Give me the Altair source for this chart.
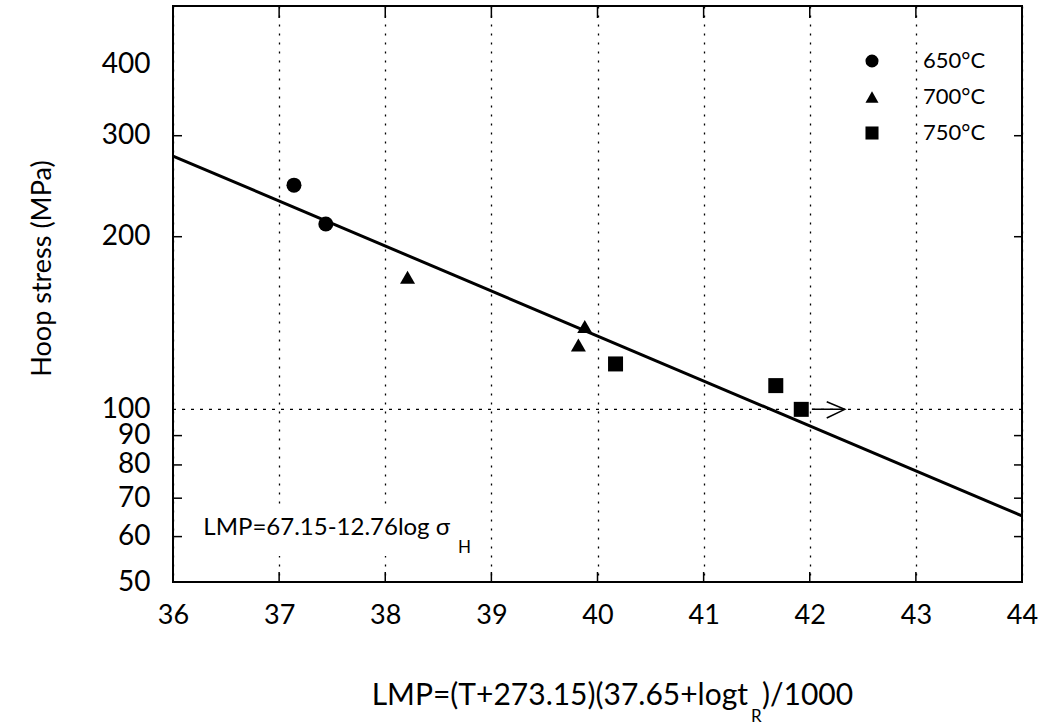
import altair as alt
import pandas as pd

FONT = "Lato"

# ---- data ----
x_ticks = [36, 37, 38, 39, 40, 41, 42, 43, 44]
y_ticks = [50, 60, 70, 80, 90, 100, 200, 300, 400]
y_inner_ticks = [60, 70, 80, 90, 200, 300]
x_inner_ticks = [37, 38, 39, 40, 41, 42, 43]
grid_y = [100]

series = ["650°C", "700°C", "750°C"]
t650_x = [37.14, 37.44]
t650_y = [246, 210.5]
t700_x = [38.21, 39.88, 39.82]
t700_y = [170, 139.5, 129.5]
t750_x = [40.17, 41.68, 41.92]
t750_y = [120, 110, 100]

fit_x = [36, 44]
fit_y = [276.5, 65.2]

arrow_shaft_x = [42.02, 42.33]
arrow_shaft_y = [100, 100]
arrow_head_x = [42.16, 42.33, 42.16]
arrow_head_y = [103.1, 100, 96.6]

ann_text = "LMP=67.15-12.76log σ"
ann_sub = "H"
ann_x = [38.611]
ann_y = [60.4]
ann_sub_x = [38.686]
ann_sub_y = [56.2]
ann_box_x = [36.15, 38.95]
ann_box_y = [55.5, 68.0]

xtitle_main = "LMP=(T+273.15)(37.65+logt"
xtitle_sub = "R"
xtitle_end = ")/1000"

W, H = 849, 576

xs = alt.Scale(domain=[36, 44], nice=False, zero=False)
ys = alt.Scale(type="log", domain=[50, 505], nice=False)

xaxis = alt.Axis(
    values=x_ticks, grid=True, gridDash=[2, 7], gridColor="black", gridWidth=1.3,
    gridOpacity=1, ticks=False, domain=False, labelFontSize=27, labelPadding=20,
    labelFont=FONT, labelColor="black", title=None, format="d",
    labelFlush=False, labelOverlap=False, labelBound=False)
yaxis = alt.Axis(
    values=y_ticks, grid=False, ticks=False, domain=False, labelFontSize=28,
    labelPadding=23, labelFont=FONT, labelColor="black", format="d",
    labelFlush=False, labelOverlap=False, labelBound=False,
    title="Hoop stress (MPa)", titleFontSize=27, titleFont=FONT, titleFontWeight="normal",
    titleColor="black", titleX=-131, titleY=262, titleAlign="center",
    titleBaseline="middle", titleAngle=270)


def X(f="x:Q"):
    return alt.X(f, scale=xs, axis=xaxis)


def Y(f="y:Q"):
    return alt.Y(f, scale=ys, axis=yaxis)


pts = pd.DataFrame({
    "x": t650_x + t700_x + t750_x,
    "y": t650_y + t700_y + t750_y,
    "T": [series[0]] * len(t650_x) + [series[1]] * len(t700_x) + [series[2]] * len(t750_x),
})

points = alt.Chart(pts).mark_point(filled=True, color="black", size=225, opacity=1).encode(
    x=X(), y=Y(),
    shape=alt.Shape("T:N", scale=alt.Scale(domain=series, range=["circle", "triangle-up", "square"]),
                    legend=alt.Legend(title=None, orient="none", legendX=688, legendY=44,
                                      labelFontSize=22, labelFont=FONT, labelColor="black",
                                      symbolSize=170, symbolFillColor="black",
                                      symbolStrokeColor="black", symbolStrokeWidth=0,
                                      labelOffset=40, rowPadding=14, padding=0)),
)

fit = alt.Chart(pd.DataFrame({"x": fit_x, "y": fit_y})).mark_line(color="black", strokeWidth=3).encode(
    x=X(), y=Y())

hgrid = alt.Chart(pd.DataFrame({"y": grid_y})).mark_rule(color="black", strokeWidth=1.3, strokeDash=[3, 6]).encode(
    y=Y())

left_ticks = alt.Chart(pd.DataFrame({"y": y_inner_ticks})).mark_rule(color="black", strokeWidth=1.5).encode(
    y=Y(), x=alt.value(0), x2=alt.value(9))
right_ticks = alt.Chart(pd.DataFrame({"y": y_inner_ticks})).mark_rule(color="black", strokeWidth=1.5).encode(
    y=Y(), x=alt.value(W - 8), x2=alt.value(W))
bottom_ticks = alt.Chart(pd.DataFrame({"x": x_inner_ticks})).mark_rule(color="black", strokeWidth=1.5).encode(
    x=X(), y=alt.value(H - 10), y2=alt.value(H))
top_ticks = alt.Chart(pd.DataFrame({"x": x_inner_ticks})).mark_rule(color="black", strokeWidth=1.5).encode(
    x=X(), y=alt.value(0), y2=alt.value(12))

shaft = alt.Chart(pd.DataFrame({"x": arrow_shaft_x, "y": arrow_shaft_y})).mark_line(color="black", strokeWidth=1.5).encode(
    x=X(), y=Y())
head = alt.Chart(pd.DataFrame({"x": arrow_head_x, "y": arrow_head_y, "o": [0, 1, 2]})).mark_line(color="black", strokeWidth=1.5).encode(
    x=X(), y=Y(), order="o:Q")

box = alt.Chart(pd.DataFrame({"x": [ann_box_x[0]], "x2": [ann_box_x[1]], "y": [ann_box_y[0]], "y2": [ann_box_y[1]]})).mark_rect(color="white", opacity=1).encode(
    x=X(), x2="x2:Q", y=Y(), y2="y2:Q")

ann = alt.Chart(pd.DataFrame({"x": ann_x, "y": ann_y, "t": [ann_text]})).mark_text(
    align="right", baseline="alphabetic", fontSize=24, font=FONT, color="black").encode(
    x=X(), y=Y(), text="t:N")
ann2 = alt.Chart(pd.DataFrame({"x": ann_sub_x, "y": ann_sub_y, "t": [ann_sub]})).mark_text(
    align="left", baseline="alphabetic", fontSize=17, font=FONT, color="black").encode(
    x=X(), y=Y(), text="t:N")

xt1 = alt.Chart(pd.DataFrame({"t": [xtitle_main]})).mark_text(
    align="right", baseline="alphabetic", fontSize=30, font=FONT, color="black").encode(
    x=alt.value(575), y=alt.value(699), text="t:N")
xt2 = alt.Chart(pd.DataFrame({"t": [xtitle_sub]})).mark_text(
    align="left", baseline="alphabetic", fontSize=17, font=FONT, color="black").encode(
    x=alt.value(578), y=alt.value(716), text="t:N")
xt3 = alt.Chart(pd.DataFrame({"t": [xtitle_end]})).mark_text(
    align="left", baseline="alphabetic", fontSize=30, font=FONT, color="black").encode(
    x=alt.value(589), y=alt.value(699), text="t:N")

chart = alt.layer(
    hgrid, box, fit, shaft, head, left_ticks, right_ticks, bottom_ticks, top_ticks,
    points, ann, ann2, xt1, xt2, xt3
).properties(
    width=W, height=H,
    autosize=alt.AutoSizeParams(type="none"),
    padding={"left": 173, "top": 6, "right": 24, "bottom": 146},
    background="white",
).configure_view(stroke="black", strokeWidth=2)

chart.save("out.html", embed_options={"renderer": "svg", "actions": False})
